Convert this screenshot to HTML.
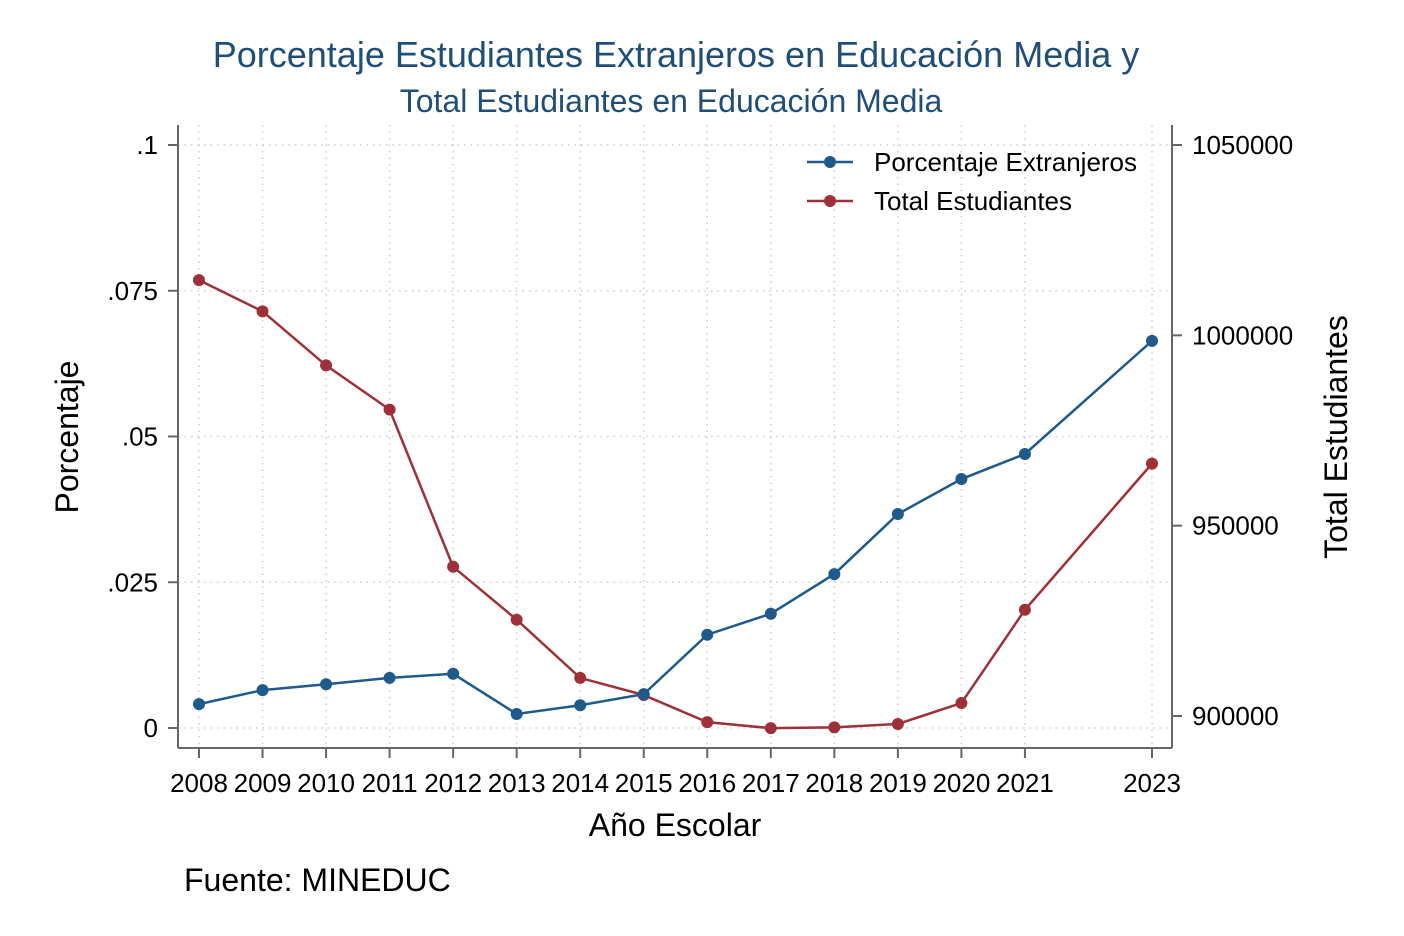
<!DOCTYPE html>
<html><head><meta charset="utf-8"><style>body{margin:0;background:#fff}svg{display:block;font-family:"Liberation Sans",Arial,sans-serif}</style></head>
<body>
<svg id="c" width="1404" height="936" viewBox="0 0 1404 936">
<rect width="1404" height="936" fill="#fff"/>
<text x="676" y="67" text-anchor="middle" font-size="36" fill="#1f4e79">Porcentaje Estudiantes Extranjeros en Educación Media y</text>
<text x="671" y="112" text-anchor="middle" font-size="32" fill="#1f4e79">Total Estudiantes en Educación Media</text>
<g id="grid"></g>
<g id="axes" stroke="#666" stroke-width="2" fill="none">
<line x1="178" y1="125" x2="178" y2="748"/>
<line x1="1172" y1="125" x2="1172" y2="748"/>
<line x1="178" y1="748" x2="1172" y2="748"/>
</g>
<g id="ticks"></g>
<g id="series"></g>
<text x="78" y="437" font-size="32" text-anchor="middle" transform="rotate(-90 78 437)">Porcentaje</text>
<text x="1347" y="437" font-size="32" text-anchor="middle" transform="rotate(-90 1347 437)">Total Estudiantes</text>
<text x="675" y="836" font-size="32" text-anchor="middle">Año Escolar</text>
<text x="184" y="891" font-size="32">Fuente: MINEDUC</text>
<g>
<line x1="807" y1="162" x2="853" y2="162" stroke="#1f5a8a" stroke-width="2.5"/><circle cx="830" cy="162" r="6" fill="#1f5a8a"/>
<text x="874" y="171" font-size="26">Porcentaje Extranjeros</text>
<line x1="807" y1="201" x2="853" y2="201" stroke="#9e3039" stroke-width="2.5"/><circle cx="830" cy="201" r="6" fill="#9e3039"/>
<text x="874" y="210" font-size="26">Total Estudiantes</text>
</g>
</svg>
<script>
const years=[2008,2009,2010,2011,2012,2013,2014,2015,2016,2017,2018,2019,2020,2021,2023];
const pct=[0.0041,0.0065,0.0075,0.0086,0.0093,0.0024,0.0039,0.0058,0.016,0.0196,0.0264,0.0367,0.0427,0.047,0.0664];
const total=[1014500,1006300,992100,980500,939200,925300,910000,905500,898400,896800,897000,897900,903400,927900,966300];
const leftTicks=[0,0.025,0.05,0.075,0.1];
const leftLabels=["0",".025",".05",".075",".1"];
const rightTicks=[900000,950000,1000000,1050000];
const NS="http://www.w3.org/2000/svg";
const X=y=>199+(y-2008)*(1152-199)/15;
const YL=v=>728-v*(728-145)/0.1;
const YR=v=>716-(v-900000)*(716-145)/150000;
function mk(t,a,p){const e=document.createElementNS(NS,t);for(const k in a)e.setAttribute(k,a[k]);p.appendChild(e);return e;}
const grid=document.getElementById('grid'),ticks=document.getElementById('ticks'),ser=document.getElementById('series');
years.forEach(y=>{
 const g=mk('line',{x1:X(y),x2:X(y),y1:125,y2:748,stroke:'#ccc','stroke-width':1.5,'stroke-dasharray':'1.5 5'},grid);
 
 
 mk('line',{x1:X(y),x2:X(y),y1:748,y2:758,stroke:'#666','stroke-width':2},ticks);
 const t=mk('text',{x:X(y),y:792,'font-size':26,'text-anchor':'middle'},ticks);t.textContent=y;
 
 
});
leftTicks.forEach((v,i)=>{
 const g=mk('line',{x1:178,x2:1172,y1:YL(v),y2:YL(v),stroke:'#ccc','stroke-width':1.5,'stroke-dasharray':'1.5 5'},grid);
 
 
 mk('line',{x1:168,x2:178,y1:YL(v),y2:YL(v),stroke:'#666','stroke-width':2},ticks);
 const t=mk('text',{x:158,y:YL(v)+9,'font-size':26,'text-anchor':'end'},ticks);t.textContent=leftLabels[i];
 
 
});
rightTicks.forEach(v=>{
 mk('line',{x1:1172,x2:1182,y1:YR(v),y2:YR(v),stroke:'#666','stroke-width':2},ticks);
 const t=mk('text',{x:1192,y:YR(v)+9,'font-size':26},ticks);t.textContent=v;
 
 
});
function draw(vals,Y,col,name){
 const l=mk('polyline',{points:vals.map((v,i)=>X(years[i])+','+Y(v)).join(' '),fill:'none',stroke:col,'stroke-width':2.5},ser);
 
 
 vals.forEach((v,i)=>{const c=mk('circle',{cx:X(years[i]),cy:Y(v),r:6,fill:col},ser);
 
 });
}
draw(total,YR,'#9e3039','total');
draw(pct,YL,'#1f5a8a','pct');
</script>
</body></html>
